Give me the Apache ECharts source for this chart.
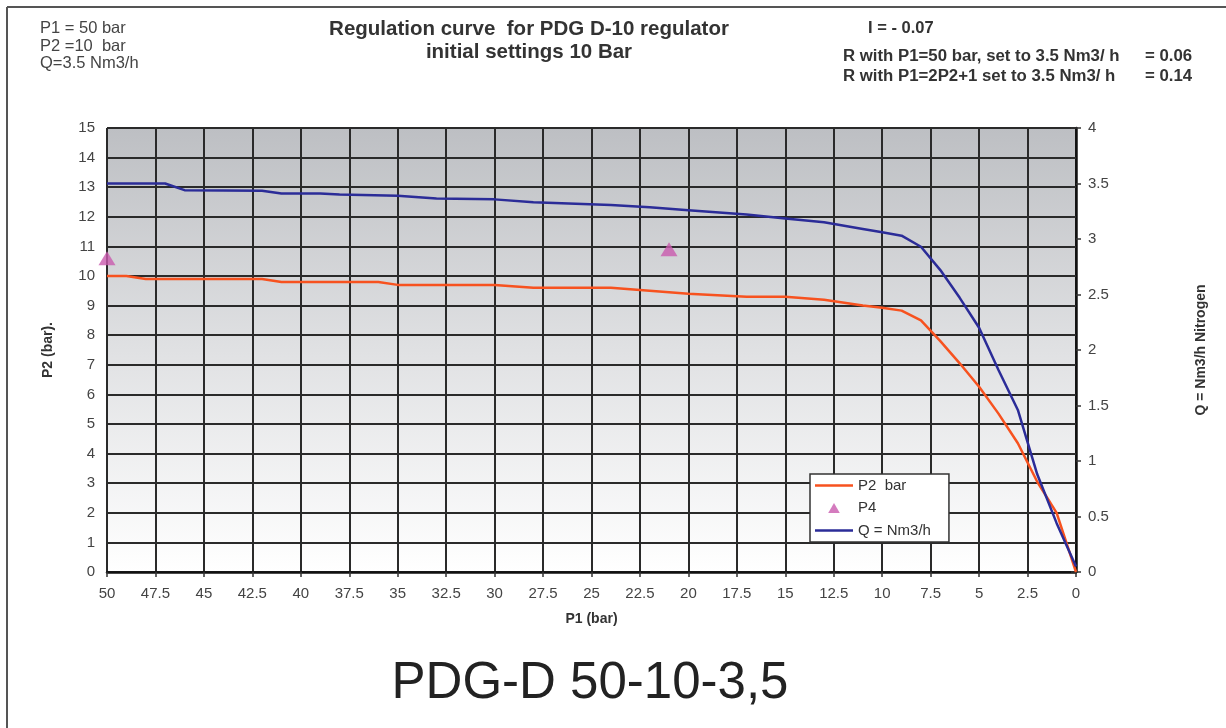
<!DOCTYPE html>
<html><head><meta charset="utf-8">
<script src="https://cdn.jsdelivr.net/npm/echarts@6/dist/echarts.min.js"></script>
<style>html,body{margin:0;padding:0;background:#fff}#c{width:1226px;height:728px}</style>
</head><body><div id="c"></div>
<script>
// P2 outlet pressure (left axis, bar) vs P1 inlet pressure (bar)
const p2P1  = [50, 49, 48, 42, 41, 36, 35, 30, 28, 24, 20, 17, 15, 13, 11, 10, 9, 8, 7, 6, 5, 4, 3, 2, 1, 0];
const p2Bar = [10.0, 10.0, 9.9, 9.9, 9.8, 9.8, 9.7, 9.7, 9.6, 9.6, 9.4, 9.3, 9.3, 9.2, 9.0, 8.93, 8.83, 8.5, 7.8, 7.05, 6.26, 5.35, 4.35, 3.05, 2.0, 0];
// Q flow (right axis, Nm3/h) vs P1
const qP1   = [50, 47, 46, 42, 41, 39, 38, 35, 33, 30, 28, 24, 22, 20, 17, 15, 13, 11, 10, 9, 8, 7, 6, 5, 4, 3, 2, 1, 0];
const qFlow = [3.5, 3.5, 3.44, 3.435, 3.41, 3.41, 3.40, 3.39, 3.365, 3.357, 3.33, 3.306, 3.285, 3.26, 3.22, 3.185, 3.15, 3.09, 3.06, 3.03, 2.93, 2.72, 2.47, 2.2, 1.82, 1.46, 0.88, 0.44, 0.05];
// P4 points (left axis)
const p4P1  = [50, 21];
const p4Bar = [10.6, 10.9];

const seriesNames = ['P2  bar', 'P4', 'Q = Nm3/h'];
const headerLeft = ['P1 = 50 bar', 'P2 =10  bar', 'Q=3.5 Nm3/h'];
const titleLines = ['Regulation curve  for PDG D-10 regulator', 'initial settings 10 Bar'];
const iText = 'I = - 0.07';
const rLabels = ['R with P1=50 bar, set to 3.5 Nm3/ h', 'R with P1=2P2+1 set to 3.5 Nm3/ h'];
const rValues = ['= 0.06', '= 0.14'];
const modelName = 'PDG-D 50-10-3,5';

const FONT = "'Liberation Sans', Arial, Helvetica, sans-serif";
const chart = echarts.init(document.getElementById('c'), null, {renderer: 'canvas'});

function txt(text, x, y, size, weight, align, color) {
  return {type: 'text', x: x, y: y, z: 10, style: {text: text, fontFamily: FONT, fontSize: size, fontWeight: weight, fill: color || '#333', align: align, verticalAlign: 'middle'}};
}

const graphics = [
  {type: 'line', shape: {x1: 7, y1: 7, x2: 1226, y2: 7}, style: {stroke: '#555', lineWidth: 2}},
  {type: 'line', shape: {x1: 7, y1: 7, x2: 7, y2: 728}, style: {stroke: '#555', lineWidth: 2}},
  txt(headerLeft[0], 40, 28, 16.5, 'normal', 'left', '#444'),
  txt(headerLeft[1], 40, 46, 16.5, 'normal', 'left', '#444'),
  txt(headerLeft[2], 40, 63, 16.5, 'normal', 'left', '#444'),
  txt(titleLines[0], 529, 29, 20.5, 'bold', 'center', '#333'),
  txt(titleLines[1], 529, 52, 20.5, 'bold', 'center', '#333'),
  txt(iText, 868, 28, 16.5, 'bold', 'left', '#333'),
  txt(rLabels[0], 843, 56, 16.8, 'bold', 'left', '#333'),
  txt(rLabels[1], 843, 76, 16.8, 'bold', 'left', '#333'),
  txt(rValues[0], 1145, 56, 16.8, 'bold', 'left', '#333'),
  txt(rValues[1], 1145, 76, 16.8, 'bold', 'left', '#333'),
  txt(modelName, 590, 684, 51, 'normal', 'center', '#222')
];

const LINE_ICON = 'path://M0,0 L38,0 L38,2.5 L0,2.5 Z';
const TRI_ICON = 'path://M5.8,0 L11.6,10 L0,10 Z';

const option = {
  animation: false,
  backgroundColor: '#fff',
  textStyle: {fontFamily: FONT},
  grid: {
    left: 107, right: 150, top: 128, bottom: 156, show: true, borderWidth: 0,
    backgroundColor: {type: 'linear', x: 0, y: 0, x2: 0, y2: 1,
      colorStops: [{offset: 0, color: '#bdbfc3'}, {offset: 0.5, color: '#e0e1e3'}, {offset: 1, color: '#ffffff'}]}
  },
  legend: {
    data: [
      {name: seriesNames[0], icon: LINE_ICON},
      {name: seriesNames[1], icon: TRI_ICON},
      {name: seriesNames[2], icon: LINE_ICON}
    ],
    orient: 'vertical', left: 810, top: 474,
    itemWidth: 38, itemHeight: 10, itemGap: 7.5, symbolKeepAspect: true,
    padding: [4, 18, 4, 5],
    backgroundColor: '#fff', borderColor: '#333', borderWidth: 1.5,
    textStyle: {fontSize: 15, color: '#333', lineHeight: 15, fontFamily: FONT}
  },
  xAxis: {
    type: 'value', inverse: true, min: 0, max: 50, interval: 2.5,
    name: 'P1 (bar)', nameLocation: 'middle', nameGap: 40,
    nameTextStyle: {fontWeight: 'bold', fontSize: 14, color: '#333', fontFamily: FONT},
    axisLine: {show: true, lineStyle: {color: '#111', width: 2.5}},
    axisTick: {show: true, length: 5, lineStyle: {color: '#333', width: 1.5}},
    axisLabel: {fontSize: 15, color: '#444', margin: 14, fontFamily: FONT},
    splitLine: {show: true, lineStyle: {color: '#2a2a2a', width: 2}}
  },
  yAxis: [
    {
      type: 'value', min: 0, max: 15, interval: 1, position: 'left',
      name: 'P2 (bar).', nameLocation: 'middle', nameGap: 52, nameRotate: 90,
      nameTextStyle: {fontWeight: 'bold', fontSize: 14, color: '#333', fontFamily: FONT},
      axisLine: {show: true, lineStyle: {color: '#222', width: 2}},
      axisTick: {show: true, length: 5, lineStyle: {color: '#333', width: 1.5}},
      axisLabel: {fontSize: 15, color: '#444', margin: 12, fontFamily: FONT},
      splitLine: {show: true, lineStyle: {color: '#2a2a2a', width: 2}}
    },
    {
      type: 'value', min: 0, max: 4, interval: 0.5, position: 'right',
      name: 'Q = Nm3/h Nitrogen', nameLocation: 'middle', nameGap: 118, nameRotate: 90,
      nameTextStyle: {fontWeight: 'bold', fontSize: 14, color: '#333', fontFamily: FONT},
      axisLine: {show: true, lineStyle: {color: '#111', width: 2.5}},
      axisTick: {show: true, length: 5, lineStyle: {color: '#333', width: 1.5}},
      axisLabel: {fontSize: 15, color: '#444', margin: 12, fontFamily: FONT},
      splitLine: {show: false}
    }
  ],
  series: [
    {
      name: seriesNames[0], type: 'line', yAxisIndex: 0, symbol: 'none', z: 3,
      data: p2P1.map((x, i) => [x, p2Bar[i]]),
      lineStyle: {color: '#f7521f', width: 2.5}, itemStyle: {color: '#f7521f'}
    },
    {
      name: seriesNames[1], type: 'scatter', yAxisIndex: 0, symbol: 'triangle', symbolSize: [17, 14], z: 4,
      data: p4P1.map((x, i) => [x, p4Bar[i]]),
      itemStyle: {color: '#c95aae'}
    },
    {
      name: seriesNames[2], type: 'line', yAxisIndex: 1, symbol: 'none', z: 3,
      data: qP1.map((x, i) => [x, qFlow[i]]),
      lineStyle: {color: '#2b2c98', width: 2.5}, itemStyle: {color: '#2b2c98'}
    }
  ],
  graphic: graphics
};
chart.setOption(option);
</script>
</body></html>
